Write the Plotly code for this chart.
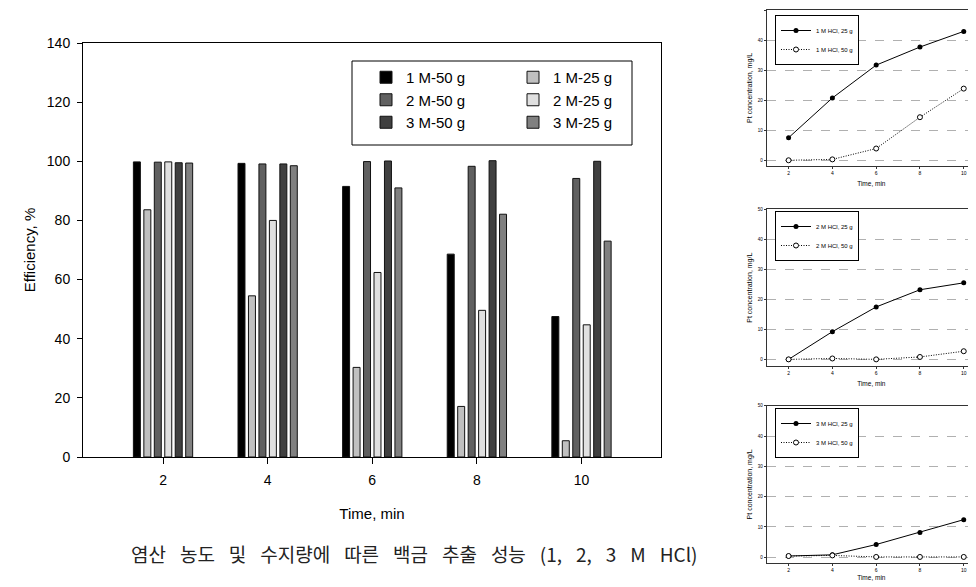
import plotly.graph_objects as go

# ---------------- data ----------------
time_min = [2, 4, 6, 8, 10]

series_names = ["1 M-50 g", "1 M-25 g", "2 M-50 g", "2 M-25 g", "3 M-50 g", "3 M-25 g"]
eff_1M_50 = [99.8, 99.3, 91.5, 68.6, 47.5]
eff_1M_25 = [83.6, 54.5, 30.3, 17.1, 5.5]
eff_2M_50 = [99.7, 99.1, 99.9, 98.3, 94.2]
eff_2M_25 = [99.8, 80.0, 62.4, 49.6, 44.7]
eff_3M_50 = [99.5, 99.1, 100.1, 100.2, 100.0]
eff_3M_25 = [99.4, 98.5, 91.0, 82.1, 73.0]
bar_colors = ["#000000", "#C0C0C0", "#606060", "#E0E0E0", "#404040", "#808080"]

small_time = [2, 4, 6, 8, 10]
pt_1M_25 = [7.6, 20.8, 31.7, 37.7, 42.9]
pt_1M_50 = [0.1, 0.4, 4.0, 14.4, 23.9]
pt_2M_25 = [0.1, 9.3, 17.5, 23.2, 25.5]
pt_2M_50 = [0.1, 0.4, 0.1, 0.9, 2.8]
pt_3M_25 = [0.4, 0.8, 4.2, 8.2, 12.4]
pt_3M_50 = [0.4, 0.6, 0.1, 0.1, 0.1]
small_labels = [("1 M HCl, 25 g", "1 M HCl, 50 g"),
                ("2 M HCl, 25 g", "2 M HCl, 50 g"),
                ("3 M HCl, 25 g", "3 M HCl, 50 g")]

SP = "\u00a0" * 3 + "\u200a"
caption_words = ["염산", "농도", "및", "수지량에", "따른", "백금", "추출", "성능", "(1,", "2,", "3", "M", "HCl)"]
caption = SP.join(caption_words)

W, H = 976, 587
OFF = 8  # page body margin offset of the figure in the browser
FONT = "Liberation Sans, Arial, sans-serif"

fig = go.Figure()

all_eff = [eff_1M_50, eff_1M_25, eff_2M_50, eff_2M_25, eff_3M_50, eff_3M_25]
legend_for = ["legend", "legend2", "legend", "legend2", "legend", "legend2"]
for name, vals, col, lg in zip(series_names, all_eff, bar_colors, legend_for):
    fig.add_trace(go.Bar(
        x=time_min, y=vals, name=name, legend=lg,
        marker=dict(color=col, line=dict(color="#111111", width=1)),
        xaxis="x", yaxis="y",
    ))

# small charts
small_sets = [(pt_1M_25, pt_1M_50), (pt_2M_25, pt_2M_50), (pt_3M_25, pt_3M_50)]
for i, ((a, b), (la, lb)) in enumerate(zip(small_sets, small_labels)):
    ax = str(i + 2)
    lg = "legend" + str(i + 3)
    fig.add_trace(go.Scatter(
        x=small_time, y=a, name=la, mode="lines+markers", legend=lg,
        line=dict(color="#000000", width=1),
        marker=dict(symbol="circle", size=5, color="#000000"),
        xaxis="x" + ax, yaxis="y" + ax,
    ))
    fig.add_trace(go.Scatter(
        x=small_time, y=b, name=lb, mode="lines+markers", legend=lg,
        line=dict(color="#000000", width=1, dash="1px,1.5px"),
        marker=dict(symbol="circle", size=5, color="#FFFFFF",
                    line=dict(color="#000000", width=1)),
        xaxis="x" + ax, yaxis="y" + ax,
    ))

def px_x(p):
    return (p - OFF) / W

def px_y(p):
    return 1 - (p - OFF) / H

layout = dict(
    width=W, height=H,
    margin=dict(l=0, r=0, t=0, b=0, autoexpand=False),
    paper_bgcolor="white", plot_bgcolor="white",
    font=dict(family=FONT, color="#000000"),
    barmode="group", bargap=0.4, bargroupgap=0.333,
    xaxis=dict(domain=[px_x(83), px_x(661)], anchor="y", automargin=False,
               range=[0.47, 11.52], tickvals=time_min,
               ticks="outside", ticklen=6, tickcolor="#000", ticklabelstandoff=4,
               showline=True, linecolor="#000", linewidth=1, mirror=True,
               showgrid=False, zeroline=False,
               tickfont=dict(size=14, family=FONT),
               title=dict(text="Time, min", font=dict(size=15, family=FONT), standoff=21)),
    yaxis=dict(domain=[px_y(457), px_y(43)], anchor="x", automargin=False,
               range=[0, 140], dtick=20,
               ticks="outside", ticklen=5, tickcolor="#000", ticklabelstandoff=4,
               showline=True, linecolor="#000", linewidth=1, mirror=True,
               showgrid=False, zeroline=False,
               tickfont=dict(size=14, family=FONT),
               title=dict(text="Efficiency, %", font=dict(size=15, family=FONT), standoff=7)),
    legend=dict(x=px_x(366), y=px_y(61), xanchor="left", yanchor="top",
                bgcolor="rgba(0,0,0,0)", borderwidth=0,
                font=dict(size=15, family=FONT), tracegroupgap=0),
    legend2=dict(x=px_x(513), y=px_y(61), xanchor="left", yanchor="top",
                 bgcolor="rgba(0,0,0,0)", borderwidth=0,
                 font=dict(size=15, family=FONT), tracegroupgap=0),
    showlegend=True,
    shapes=[dict(type="rect", xref="paper", yref="paper",
                 x0=px_x(352), x1=px_x(632), y0=px_y(145), y1=px_y(61),
                 line=dict(color="#000", width=1), layer="above")],
    annotations=[dict(text=caption, xref="paper", yref="paper",
                      x=px_x(414), y=px_y(553), xanchor="center", yanchor="middle",
                      showarrow=False,
                      font=dict(size=19, family="Noto Sans CJK KR", color="#222"))],
)

small_dom = [(10, 165.7, -1.7), (209, 366.3, -2.2), (405.7, 563, -1.9)]
legend_tops = [15, 211, 408]
title_standoff = [6, 6, 3]
for i, (top, bot, ymin) in enumerate(small_dom):
    ax = str(i + 2)
    layout["xaxis" + ax] = dict(
        domain=[px_x(766.7), px_x(976)], anchor="y" + ax, automargin=False,
        range=[1.0, 10.56], tickvals=small_time,
        ticks="outside", ticklen=2, tickcolor="#333",
        showline=True, linecolor="#333", linewidth=1, mirror=True,
        showgrid=False, zeroline=False,
        tickfont=dict(size=5, family=FONT),
        title=dict(text="Time, min", font=dict(size=6.5, family=FONT), standoff=title_standoff[i]))
    layout["yaxis" + ax] = dict(
        domain=[px_y(bot), px_y(top)], anchor="x" + ax, automargin=False,
        range=[ymin, 50], tickvals=[0, 10, 20, 30, 40, 50],
        ticks="outside", ticklen=2, tickcolor="#333",
        showline=True, linecolor="#333", linewidth=1, mirror=True,
        showgrid=True, gridcolor="#b0b0b0", griddash="dash", gridwidth=1,
        zeroline=False,
        tickfont=dict(size=4.5, family=FONT),
        title=dict(text="Pt concentration, mg/L", font=dict(size=7, family=FONT), standoff=4))
    layout["legend" + str(i + 3)] = dict(
        x=px_x(775), y=px_y(legend_tops[i]), xanchor="left", yanchor="top",
        bgcolor="white", bordercolor="#000", borderwidth=1,
        font=dict(size=6, family=FONT), itemwidth=30, tracegroupgap=0)

fig.update_layout(**layout)
fig.write_html("out.html")
